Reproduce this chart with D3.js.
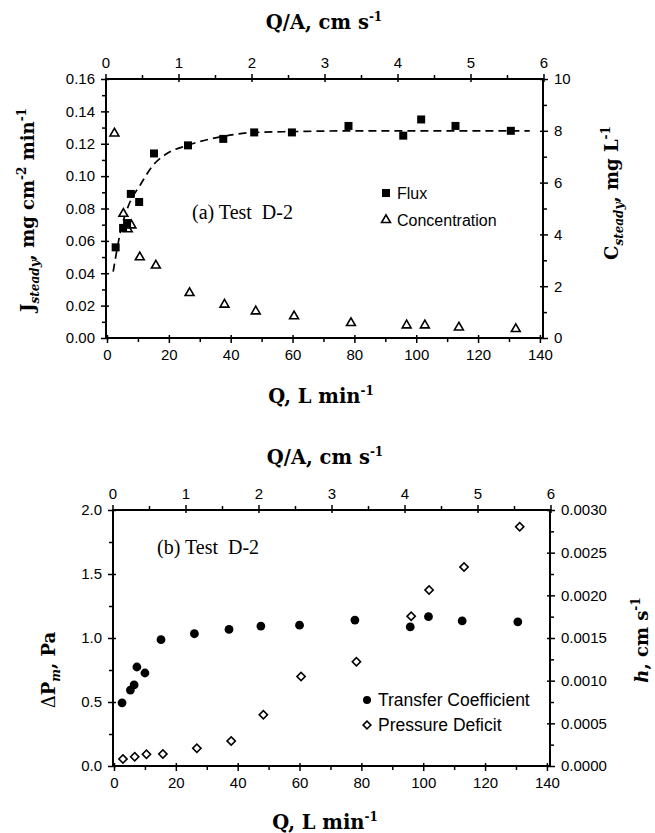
<!DOCTYPE html>
<html><head><meta charset="utf-8">
<script src="https://cdn.jsdelivr.net/npm/d3@7"></script>
<style>
body{margin:0;background:#fff}
svg{display:block}
.tick text{font-family:"Liberation Sans",Arial,sans-serif;font-size:15px;fill:#000}
.tick line{stroke:#000;stroke-width:1.5}
.ttl{font-family:"DejaVu Serif",serif;font-weight:bold;font-size:19.5px;fill:#000}
.leg{font-family:"Liberation Sans",Arial,sans-serif;fill:#000}
.lab{font-family:"Liberation Serif","Times New Roman",serif;font-size:20px;fill:#000;white-space:pre}
</style></head><body><svg id="c" width="655" height="833"></svg>
<script>
// ---------- tick labels ----------
const Q_TICKS = [0, 20, 40, 60, 80, 100, 120, 140];
const QA_TICKS = [0, 1, 2, 3, 4, 5, 6];
const J_TICKS = [0, 0.02, 0.04, 0.06, 0.08, 0.10, 0.12, 0.14, 0.16];
const C_TICKS = [0, 2, 4, 6, 8, 10];
const DP_TICKS = [0, 0.5, 1.0, 1.5, 2.0];
const H_TICKS = [0, 0.0005, 0.0010, 0.0015, 0.0020, 0.0025, 0.0030];

// ---------- panel (a): flux & concentration ----------
const fluxQ = [2.8, 5.2, 6.5, 7.7, 10.4, 15.2, 26.2, 37.6, 47.6, 59.8, 78.1, 95.8, 101.6, 112.7, 130.6];
const fluxJ = [0.056, 0.068, 0.071, 0.089, 0.084, 0.114, 0.119, 0.123, 0.127, 0.127, 0.131, 0.125, 0.135, 0.131, 0.128];
const concQ = [2.4, 5.3, 6.7, 7.9, 10.6, 15.8, 26.7, 38.0, 48.1, 60.5, 78.9, 96.9, 102.8, 113.8, 132.2];
const concC = [7.9, 4.8, 4.2, 4.35, 3.12, 2.8, 1.74, 1.29, 1.03, 0.84, 0.58, 0.49, 0.49, 0.41, 0.35];
// dashed fitted curve
const fitQ = [2.0, 2.8, 4.4, 6.9, 10.9, 14.6, 19, 26, 37.5, 47.6, 60, 80, 100, 120, 136.7];
const fitJ = [0.041, 0.050, 0.066, 0.0815, 0.095, 0.106, 0.1135, 0.119, 0.1245, 0.127, 0.1275, 0.128, 0.128, 0.128, 0.128];

// ---------- panel (b): transfer coefficient & pressure deficit ----------
const hQ = [2.6, 5.3, 6.5, 7.4, 10.0, 15.2, 26.0, 37.2, 47.5, 60.0, 77.9, 95.8, 101.7, 112.6, 130.6];
const hV = [0.00074, 0.00089, 0.00095, 0.00116, 0.00109, 0.00148, 0.00155, 0.00160, 0.00164, 0.00165, 0.00171, 0.00163, 0.00175, 0.00170, 0.00169];
const dpQ = [2.9, 6.7, 10.5, 15.8, 26.8, 37.9, 48.3, 60.5, 78.4, 96.1, 101.9, 113.2, 131.2];
const dpV = [0.055, 0.073, 0.091, 0.094, 0.138, 0.195, 0.40, 0.70, 0.815, 1.17, 1.375, 1.555, 1.87];

const svg = d3.select("#c");

function minorVals(ticks) {
  const out = [];
  for (let i = 0; i < ticks.length - 1; i++) out.push(+((ticks[i] + ticks[i + 1]) / 2).toFixed(6));
  return out;
}

function drawAxis(g, axisFn, scale, ticks, fmt, transform) {
  g.append("g").attr("transform", transform)
    .call(axisFn(scale).tickValues(ticks).tickFormat(fmt).tickSizeInner(5).tickSizeOuter(0).tickPadding(6))
    .call(a => a.select(".domain").remove());
  g.append("g").attr("transform", transform)
    .call(axisFn(scale).tickValues(ticks).tickFormat("").tickSizeInner(-3).tickSizeOuter(0))
    .call(a => a.select(".domain").remove());
  g.append("g").attr("transform", transform)
    .call(axisFn(scale).tickValues(minorVals(ticks)).tickFormat("").tickSizeInner(4).tickSizeOuter(0))
    .call(a => a.select(".domain").remove());
}

function rich(sel, parts) {
  parts.forEach(p => {
    const t = sel.append("tspan").text(p.t);
    if (p.sub) t.attr("dy", 5).attr("font-size", 12).attr("font-style", "italic");
    if (p.sup) t.attr("dy", -8).attr("font-size", 12);
    if (p.italic) t.attr("font-style", "italic");
    if (p.normal) t.attr("font-weight", "normal");
    if (p.back) t.attr("dy", p.back);
  });
  return sel;
}

function panel(cfg) {
  const g = svg.append("g");
  const x = d3.scaleLinear().domain([0, 141]).range([cfg.x0 + cfg.xoff, cfg.x1]);
  const xt = d3.scaleLinear().domain([0, 6]).range([cfg.x0 - 0.5, cfg.x1 + 0.5]);
  const yl = d3.scaleLinear().domain(cfg.yl).range([cfg.y1, cfg.y0]);
  const yr = d3.scaleLinear().domain(cfg.yr).range([cfg.y1, cfg.y0]);

  drawAxis(g, d3.axisBottom, x, Q_TICKS, d3.format("d"), `translate(0,${cfg.y1})`);
  drawAxis(g, d3.axisTop, xt, QA_TICKS, d3.format("d"), `translate(0,${cfg.y0})`);
  drawAxis(g, d3.axisLeft, yl, cfg.ylTicks, cfg.ylFmt, `translate(${cfg.x0},0)`);
  drawAxis(g, d3.axisRight, yr, cfg.yrTicks, cfg.yrFmt, `translate(${cfg.x1},0)`);

  g.append("rect").attr("x", cfg.x0).attr("y", cfg.y0)
    .attr("width", cfg.x1 - cfg.x0).attr("height", cfg.y1 - cfg.y0)
    .attr("fill", "none").attr("stroke", "#000").attr("stroke-width", 2);
  return { g, x, yl, yr };
}

// ================= Panel (a) =================
const A = panel({ x0: 106, x1: 543, y0: 79, y1: 338, xoff: 1,
  yl: [0, 0.16], yr: [0, 10], ylTicks: J_TICKS, yrTicks: C_TICKS,
  ylFmt: d3.format(".2f"), yrFmt: d3.format("d") });

A.g.append("path")
  .datum(fitQ.map((q, i) => [q, fitJ[i]]))
  .attr("d", d3.line().x(d => A.x(d[0])).y(d => A.yl(d[1])).curve(d3.curveMonotoneX))
  .attr("fill", "none").attr("stroke", "#000").attr("stroke-width", 1.7).attr("stroke-dasharray", "8,5");

const sq = d3.symbol().type(d3.symbolSquare).size(64);
const tri = d3.symbol().type(d3.symbolTriangle).size(34);
A.g.selectAll(".conc").data(concQ).join("path")
  .attr("transform", (q, i) => `translate(${A.x(q)},${A.yr(concC[i])})`)
  .attr("d", tri).attr("fill", "#fff").attr("stroke", "#000").attr("stroke-width", 1.6);
A.g.selectAll(".flux").data(fluxQ).join("path")
  .attr("transform", (q, i) => `translate(${A.x(q)},${A.yl(fluxJ[i])})`)
  .attr("d", sq).attr("fill", "#000");

// legend (a)
A.g.append("path").attr("transform", "translate(386,193)").attr("d", sq).attr("fill", "#000");
A.g.append("text").attr("class", "leg").attr("x", 397).attr("y", 199).attr("font-size", 16).text("Flux");
A.g.append("path").attr("transform", "translate(386,220)").attr("d", tri).attr("fill", "#fff").attr("stroke", "#000").attr("stroke-width", 1.6);
A.g.append("text").attr("class", "leg").attr("x", 397).attr("y", 226).attr("font-size", 16).text("Concentration");
A.g.append("text").attr("class", "lab").attr("x", 192).attr("y", 219).text("(a) Test  D-2");

// titles (a)
rich(svg.append("text").attr("class", "ttl").attr("x", 324).attr("y", 29).attr("text-anchor", "middle"),
  [{ t: "Q/A, cm s" }, { t: "-1", sup: true }]);
rich(svg.append("text").attr("class", "ttl").attr("x", 321).attr("y", 403).attr("text-anchor", "middle"),
  [{ t: "Q, L min" }, { t: "-1", sup: true }]);
rich(svg.append("text").attr("class", "ttl").attr("text-anchor", "middle").style("font-size", "18px")
  .attr("transform", "translate(34,210) rotate(-90)"),
  [{ t: "J" }, { t: "steady", sub: true }, { t: ",  mg cm", back: -5 }, { t: "-2", sup: true }, { t: " min", back: 8 }, { t: "-1", sup: true }]);
rich(svg.append("text").attr("class", "ttl").attr("text-anchor", "middle").style("font-size", "18px")
  .attr("transform", "translate(618,193) rotate(-90)"),
  [{ t: "C" }, { t: "steady", sub: true }, { t: ",  mg L", back: -5 }, { t: "-1", sup: true }]);

// ================= Panel (b) =================
const B = panel({ x0: 113, x1: 550, y0: 510, y1: 766, xoff: 1,
  yl: [0, 2], yr: [0, 0.003], ylTicks: DP_TICKS, yrTicks: H_TICKS,
  ylFmt: d3.format(".1f"), yrFmt: d3.format(".4f") });

B.g.selectAll(".dp").data(dpQ).join("path")
  .attr("transform", (q, i) => `translate(${B.x(q)},${B.yl(dpV[i])}) rotate(45)`)
  .attr("d", d3.symbol().type(d3.symbolSquare).size(34)).attr("fill", "#fff").attr("stroke", "#000").attr("stroke-width", 1.6);
B.g.selectAll(".hc").data(hQ).join("circle")
  .attr("cx", q => B.x(q)).attr("cy", (q, i) => B.yr(hV[i])).attr("r", 4.4).attr("fill", "#000");

// legend (b)
B.g.append("circle").attr("cx", 367).attr("cy", 700).attr("r", 4).attr("fill", "#000");
B.g.append("text").attr("class", "leg").attr("x", 378).attr("y", 706).attr("font-size", 17.5).text("Transfer Coefficient");
B.g.append("path").attr("transform", "translate(367,725) rotate(45)")
  .attr("d", d3.symbol().type(d3.symbolSquare).size(30)).attr("fill", "#fff").attr("stroke", "#000").attr("stroke-width", 1.6);
B.g.append("text").attr("class", "leg").attr("x", 378).attr("y", 731).attr("font-size", 17.5).text("Pressure Deficit");
B.g.append("text").attr("class", "lab").attr("x", 157).attr("y", 554).text("(b) Test  D-2");

// titles (b)
rich(svg.append("text").attr("class", "ttl").attr("x", 325).attr("y", 464).attr("text-anchor", "middle"),
  [{ t: "Q/A, cm s" }, { t: "-1", sup: true }]);
rich(svg.append("text").attr("class", "ttl").attr("x", 325).attr("y", 829).attr("text-anchor", "middle"),
  [{ t: "Q, L min" }, { t: "-1", sup: true }]);
rich(svg.append("text").attr("class", "ttl").attr("text-anchor", "middle").style("font-size", "18px")
  .attr("transform", "translate(55,670) rotate(-90)"),
  [{ t: "Δ", normal: true }, { t: "P" }, { t: "m", sub: true }, { t: ",  Pa", back: -5 }]);
rich(svg.append("text").attr("class", "ttl").attr("text-anchor", "middle").style("font-size", "18px")
  .attr("transform", "translate(648,640) rotate(-90)"),
  [{ t: "h", italic: true }, { t: ",  cm s" }, { t: "-1", sup: true }]);
</script></body></html>
